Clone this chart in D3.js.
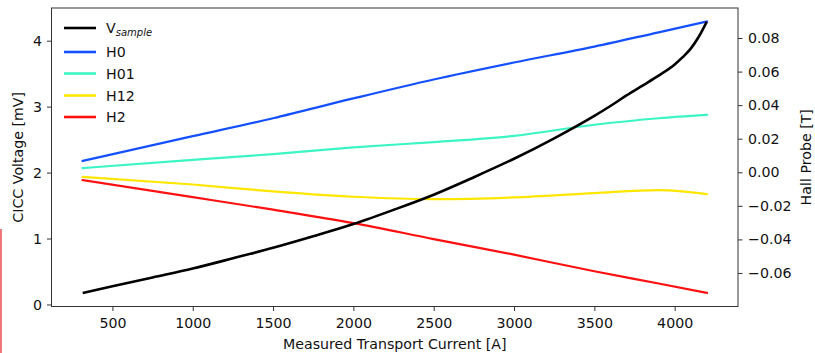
<!DOCTYPE html>
<html>
<head>
<meta charset="utf-8">
<script src="https://cdn.jsdelivr.net/npm/d3@7"></script>
<style>
  html, body { margin: 0; padding: 0; background: #fff; }
  svg { display: block; font-family: "DejaVu Sans", sans-serif; }
</style>
</head>
<body>
<svg id="chart" width="815" height="353"></svg>
<script>
// Sample voltage vs. transport current (left axis, mV)
const vCurrent = [315, 500, 750, 1000, 1250, 1500, 1750, 2000, 2250, 2500, 2750, 3000, 3250, 3500, 3600, 3700, 3800, 3900, 4000, 4050, 4100, 4150, 4200];
const vSample  = [0.175, 0.275, 0.41, 0.545, 0.70, 0.86, 1.035, 1.22, 1.435, 1.665, 1.93, 2.21, 2.52, 2.86, 3.01, 3.17, 3.32, 3.47, 3.64, 3.75, 3.88, 4.06, 4.29];

// Hall probe readings (right axis, T)
const hallCurrent = [315, 1000, 1500, 2000, 2500, 3000, 3500, 3900, 4200];
const h0  = [0.0068, 0.0215, 0.0322, 0.0440, 0.0553, 0.0654, 0.0749, 0.0834, 0.0898];
const h01 = [0.0025, 0.0074, 0.0108, 0.0148, 0.0180, 0.0217, 0.0283, 0.0322, 0.0342];
const h12 = [-0.0027, -0.0073, -0.0114, -0.0146, -0.0160, -0.0150, -0.0124, -0.0106, -0.0130];
const h2  = [-0.0047, -0.0148, -0.0223, -0.0303, -0.0398, -0.0491, -0.0590, -0.0663, -0.0719];

const xTicks = [500, 1000, 1500, 2000, 2500, 3000, 3500, 4000];
const yLeftTicks = [0, 1, 2, 3, 4];
const yRightTicks = [-0.06, -0.04, -0.02, 0.00, 0.02, 0.04, 0.06, 0.08];

const hallSeries = [
  { name: "H0",  values: h0,  color: "#1450ff" },
  { name: "H01", values: h01, color: "#3cf5c4" },
  { name: "H12", values: h12, color: "#ffe600" },
  { name: "H2",  values: h2,  color: "#ff1010" }
];

const svg = d3.select("#chart");
const plot = { left: 51.5, right: 738, top: 8, bottom: 306.5 };
const fontSize = 14.2;

// pad a data extent by 5% on both sides
function padded(lo, hi) {
  const m = (hi - lo) * 0.05;
  return [lo - m, hi + m];
}

const x = d3.scaleLinear()
  .domain(padded(d3.min(vCurrent), d3.max(vCurrent)))
  .range([plot.left, plot.right]);

const yL = d3.scaleLinear()
  .domain(padded(d3.min(vSample), d3.max(vSample)))
  .range([plot.bottom, plot.top]);

const allHall = hallSeries.flatMap(s => s.values);
const yR = d3.scaleLinear()
  .domain(padded(d3.min(allHall), d3.max(allHall)))
  .range([plot.bottom, plot.top]);

// small red mark along the left edge
svg.append("line")
  .attr("x1", 1).attr("x2", 1).attr("y1", 229).attr("y2", 353)
  .attr("stroke", "#e8413f").attr("stroke-width", 1.4);

// series
const hallLine = vals => d3.line()
  .x((d, i) => x(hallCurrent[i]))
  .y(d => yR(d))
  .curve(d3.curveMonotoneX)(vals);

hallSeries.forEach(s => {
  svg.append("path")
    .attr("d", hallLine(s.values))
    .attr("fill", "none")
    .attr("stroke", s.color)
    .attr("stroke-width", 2.2)
    .attr("stroke-linecap", "square");
});

svg.append("path")
  .attr("d", d3.line()
    .x((d, i) => x(vCurrent[i]))
    .y(d => yL(d))
    .curve(d3.curveMonotoneX)(vSample))
  .attr("fill", "none")
  .attr("stroke", "#000")
  .attr("stroke-width", 2.6);

// axes
function styleAxis(g) {
  g.selectAll(".domain").remove();
  g.selectAll(".tick line").attr("stroke", "#333").attr("stroke-width", 1);
  g.selectAll(".tick text").attr("fill", "#111").attr("font-size", fontSize)
    .attr("font-family", "DejaVu Sans, sans-serif");
}

svg.append("g")
  .attr("transform", `translate(0,${plot.bottom})`)
  .call(d3.axisBottom(x).tickValues(xTicks).tickFormat(d3.format("d")).tickSize(4.5).tickPadding(6.5))
  .call(styleAxis);

svg.append("g")
  .attr("transform", `translate(${plot.left},0)`)
  .call(d3.axisLeft(yL).tickValues(yLeftTicks).tickFormat(d3.format("d")).tickSize(4.5).tickPadding(5))
  .call(styleAxis);

svg.append("g")
  .attr("transform", `translate(${plot.right},0)`)
  .call(d3.axisRight(yR).tickValues(yRightTicks).tickFormat(d3.format(".2f")).tickSize(4.5).tickPadding(5.5))
  .call(styleAxis);

// frame
svg.append("rect")
  .attr("x", plot.left).attr("y", plot.top)
  .attr("width", plot.right - plot.left).attr("height", plot.bottom - plot.top)
  .attr("fill", "none").attr("stroke", "#333").attr("stroke-width", 1);

// axis titles
const midY = (plot.top + plot.bottom) / 2;
svg.append("text")
  .attr("x", (plot.left + plot.right) / 2).attr("y", 348.5)
  .attr("text-anchor", "middle").attr("font-size", fontSize).attr("fill", "#111")
  .text("Measured Transport Current [A]");

svg.append("text")
  .attr("transform", `translate(23,${midY}) rotate(-90)`)
  .attr("text-anchor", "middle").attr("font-size", fontSize).attr("fill", "#111")
  .text("CICC Voltage [mV]");

svg.append("text")
  .attr("transform", `translate(811,${midY}) rotate(-90)`)
  .attr("text-anchor", "middle").attr("font-size", fontSize).attr("fill", "#111")
  .text("Hall Probe [T]");

// legend
const legendItems = [{ name: "V", color: "#000", sub: "sample" }]
  .concat(hallSeries.map(s => ({ name: s.name, color: s.color })));
const legendY = [28, 52, 73.5, 95.5, 117];
const legend = svg.append("g");
legendItems.forEach((item, i) => {
  const yy = legendY[i];
  legend.append("line")
    .attr("x1", 64).attr("x2", 96).attr("y1", yy).attr("y2", yy)
    .attr("stroke", item.color).attr("stroke-width", 2.6);
  const t = legend.append("text")
    .attr("x", 106).attr("y", yy + 5)
    .attr("font-size", fontSize).attr("fill", "#111")
    .text(item.name);
  if (item.sub) {
    t.append("tspan")
      .attr("dy", 3).attr("font-size", 10).attr("font-style", "italic")
      .text(item.sub);
  }
});
</script>
</body>
</html>
